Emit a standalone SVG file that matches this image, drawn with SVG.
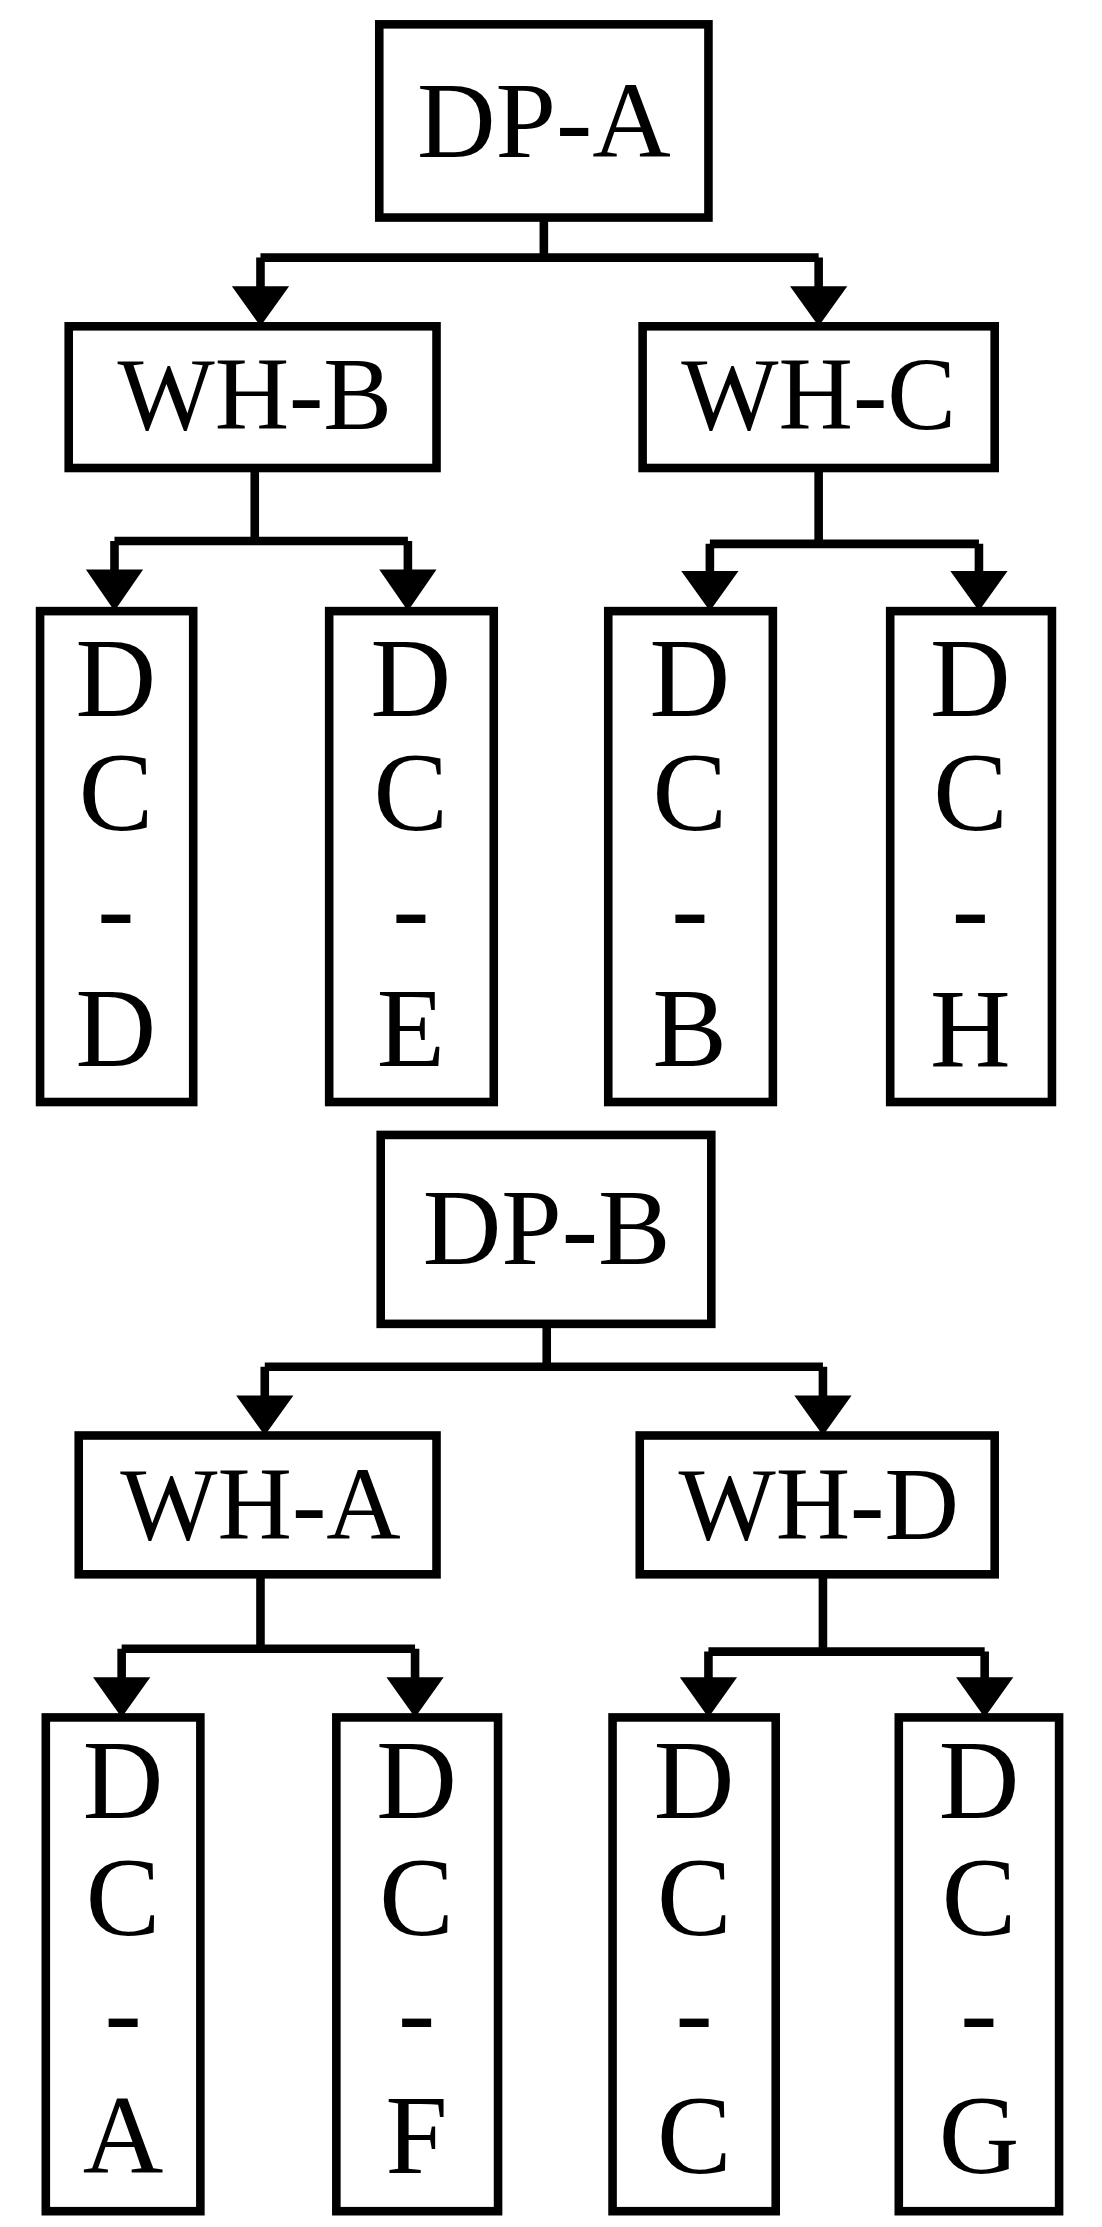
<svg xmlns="http://www.w3.org/2000/svg" width="1102" height="2227" viewBox="0 0 1102 2227">
<style>
.b{fill:#fff;stroke:#000;stroke-width:6}
.l{fill:none;stroke:#000;stroke-width:6}
.h{fill:#000}
text{font-family:"Liberation Serif","Times New Roman",Times,serif;fill:#000;text-anchor:middle}
.t{font-size:76px}
.w{font-size:72px}
.s{font-size:78px}
</style>
<rect width="1102" height="2227" fill="#fff"/>
<g transform="scale(1.4312)">
<g id="connectors">
<path class="l" d="M380 152V180M182 180H572M182 180V205M572 180V205"/>
<path class="h" d="M162 200H202L182 228ZM552 200H592L572 228Z"/>
<path class="l" d="M178 327V378M80 378H285M80 378V402M285 378V402"/>
<path class="h" d="M60 398H100L80 427ZM265 398H305L285 427Z"/>
<path class="l" d="M572 327V380M496 380H684M496 380V402M684 380V402"/>
<path class="h" d="M476 399H516L496 427ZM664 399H704L684 427Z"/>
<path class="l" d="M382 925V955M185 955H575M185 955V980M575 955V980"/>
<path class="h" d="M165 975H205L185 1003ZM555 975H595L575 1003Z"/>
<path class="l" d="M182 1100V1152M85 1152H290M85 1152V1175M290 1152V1175"/>
<path class="h" d="M65 1172H105L85 1200ZM270 1172H310L290 1200Z"/>
<path class="l" d="M575 1100V1154M495 1154H688M495 1154V1175M688 1154V1175"/>
<path class="h" d="M475 1172H515L495 1200ZM668 1172H708L688 1200Z"/>
</g>
<g id="dpa"><rect class="b" x="265" y="17" width="230" height="135"/><text class="t" x="380" y="110" font-family="Liberation Serif">DP-A</text></g>
<g id="whb"><rect class="b" x="48" y="228" width="257" height="99"/><text class="w" x="178" y="300" font-family="Liberation Serif">WH-B</text></g>
<g id="whc"><rect class="b" x="449" y="228" width="246" height="99"/><text class="w" x="572" y="300" font-family="Liberation Serif">WH-C</text></g>
<g id="dcd" font-family="Liberation Serif"><rect class="b" x="28" y="427" width="107" height="343"/><text class="s" x="81" y="500">D</text><text class="s" x="81" y="580">C</text><text class="s" x="81" y="660">-</text><text class="s" x="81" y="745">D</text></g>
<g id="dce"><rect class="b" x="230" y="427" width="115" height="343"/><text class="s" x="287" y="500">D</text><text class="s" x="287" y="580">C</text><text class="s" x="287" y="660">-</text><text class="s" x="287" y="745">E</text></g>
<g id="dcb"><rect class="b" x="425" y="427" width="115" height="343"/><text class="s" x="482" y="500">D</text><text class="s" x="482" y="580">C</text><text class="s" x="482" y="660">-</text><text class="s" x="482" y="745">B</text></g>
<g id="dch"><rect class="b" x="622" y="427" width="113" height="343"/><text class="s" x="678" y="500">D</text><text class="s" x="678" y="580">C</text><text class="s" x="678" y="660">-</text><text class="s" x="678" y="745">H</text></g>
<g id="dpb"><rect class="b" x="266" y="793" width="231" height="132"/><text class="t" x="382" y="883">DP-B</text></g>
<g id="wha"><rect class="b" x="55" y="1003" width="250" height="97"/><text class="w" x="182" y="1075">WH-A</text></g>
<g id="whd"><rect class="b" x="447" y="1003" width="248" height="97"/><text class="w" x="572" y="1075">WH-D</text></g>
<g id="dca"><rect class="b" x="32" y="1200" width="108" height="345"/><text class="s" x="86" y="1270">D</text><text class="s" x="86" y="1352">C</text><text class="s" x="86" y="1432">-</text><text class="s" x="86" y="1518">A</text></g>
<g id="dcf"><rect class="b" x="235" y="1200" width="113" height="345"/><text class="s" x="291" y="1270">D</text><text class="s" x="291" y="1352">C</text><text class="s" x="291" y="1432">-</text><text class="s" x="291" y="1518">F</text></g>
<g id="dcc"><rect class="b" x="428" y="1200" width="114" height="345"/><text class="s" x="485" y="1270">D</text><text class="s" x="485" y="1352">C</text><text class="s" x="485" y="1432">-</text><text class="s" x="485" y="1518">C</text></g>
<g id="dcg"><rect class="b" x="628" y="1200" width="112" height="345"/><text class="s" x="684" y="1270">D</text><text class="s" x="684" y="1352">C</text><text class="s" x="684" y="1432">-</text><text class="s" x="684" y="1518">G</text></g>
</g>
</svg>
